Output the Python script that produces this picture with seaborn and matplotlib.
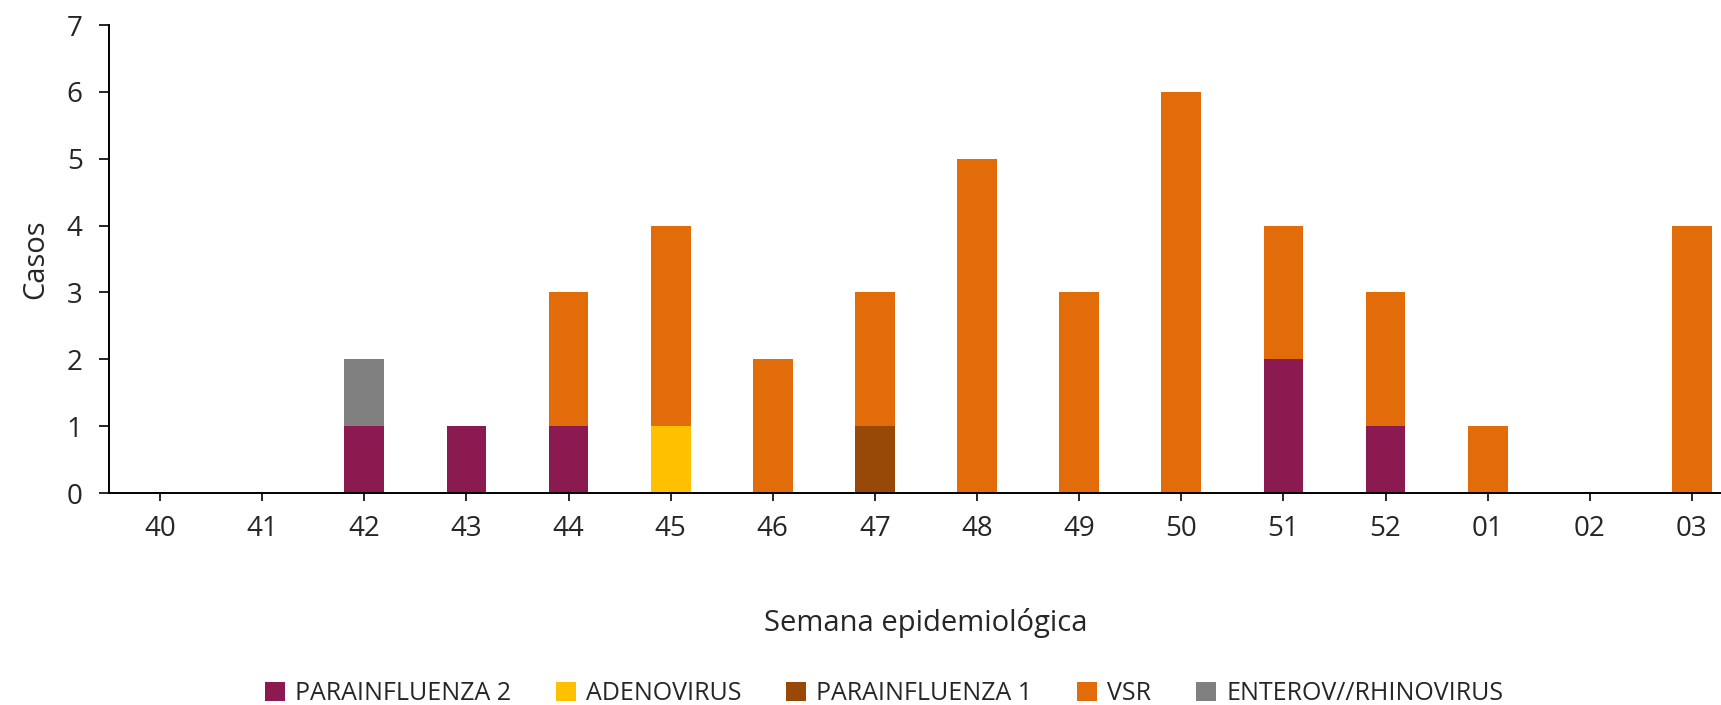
import numpy as np
import pandas as pd
import matplotlib
matplotlib.use('Agg')
import matplotlib.pyplot as plt
import seaborn as sns

# weekly case counts by virus
weeks = ['40', '41', '42', '43', '44', '45', '46', '47', '48', '49', '50', '51', '52', '01', '02', '03']
parainf2 = [0, 0, 1, 1, 1, 0, 0, 0, 0, 0, 0, 2, 1, 0, 0, 0]
adeno = [0, 0, 0, 0, 0, 1, 0, 0, 0, 0, 0, 0, 0, 0, 0, 0]
parainf1 = [0, 0, 0, 0, 0, 0, 0, 1, 0, 0, 0, 0, 0, 0, 0, 0]
vsr = [0, 0, 0, 0, 2, 3, 2, 2, 5, 3, 6, 2, 2, 1, 0, 4]
enterov = [0, 0, 1, 0, 0, 0, 0, 0, 0, 0, 0, 0, 0, 0, 0, 0]

series = [('PARAINFLUENZA 2', parainf2, '#8B1A51'),
          ('ADENOVIRUS', adeno, '#FFC000'),
          ('PARAINFLUENZA 1', parainf1, '#984807'),
          ('VSR', vsr, '#E36C0A'),
          ('ENTEROV//RHINOVIRUS', enterov, '#808080')]

sns.set_style('white')
plt.rcParams['font.family'] = ['Open Sans', 'DejaVu Sans']

fig = plt.figure(figsize=(17.21, 7.05), dpi=100)
# axes run a little past the right edge, like the original crop
ax = fig.add_axes([109/1721, 1 - 493/705, 1634/1721, 468/705])

bottom = np.zeros(len(weeks))
for name, vals, col in series:
    df = pd.DataFrame({'semana': weeks, 'casos': vals})
    sns.barplot(data=df, x='semana', y='casos', order=weeks, color=col,
                width=0.39, bottom=bottom, linewidth=0, label=name,
                saturation=1, ax=ax, legend=False)
    bottom = bottom + np.array(vals)

ax.set_xlim(-0.5, len(weeks) - 0.5)
ax.set_ylim(0, 7)
ax.set_yticks(range(0, 8))
for s in ['top', 'right']:
    ax.spines[s].set_visible(False)
for s in ['left', 'bottom']:
    ax.spines[s].set_color('black')
    ax.spines[s].set_linewidth(1.4)
ax.tick_params(axis='y', direction='out', length=7, width=1.4, labelsize=20, pad=12, left=True)
ax.tick_params(axis='x', direction='out', length=6, width=1.4, labelsize=20, pad=10, bottom=True)
ax.set_ylabel('Casos', fontsize=21, labelpad=12)
ax.set_xlabel('Semana epidemiológica', fontsize=21, labelpad=47)

handles, labels = ax.get_legend_handles_labels()
fig.legend(handles[:5], labels[:5], loc='center', bbox_to_anchor=(884/1721, 1 - 694/705),
           ncol=5, frameon=False, fontsize=18, handlelength=0.8, handleheight=0.8,
           handletextpad=0.4, columnspacing=1.8)

plt.savefig('out.png', dpi=100)
